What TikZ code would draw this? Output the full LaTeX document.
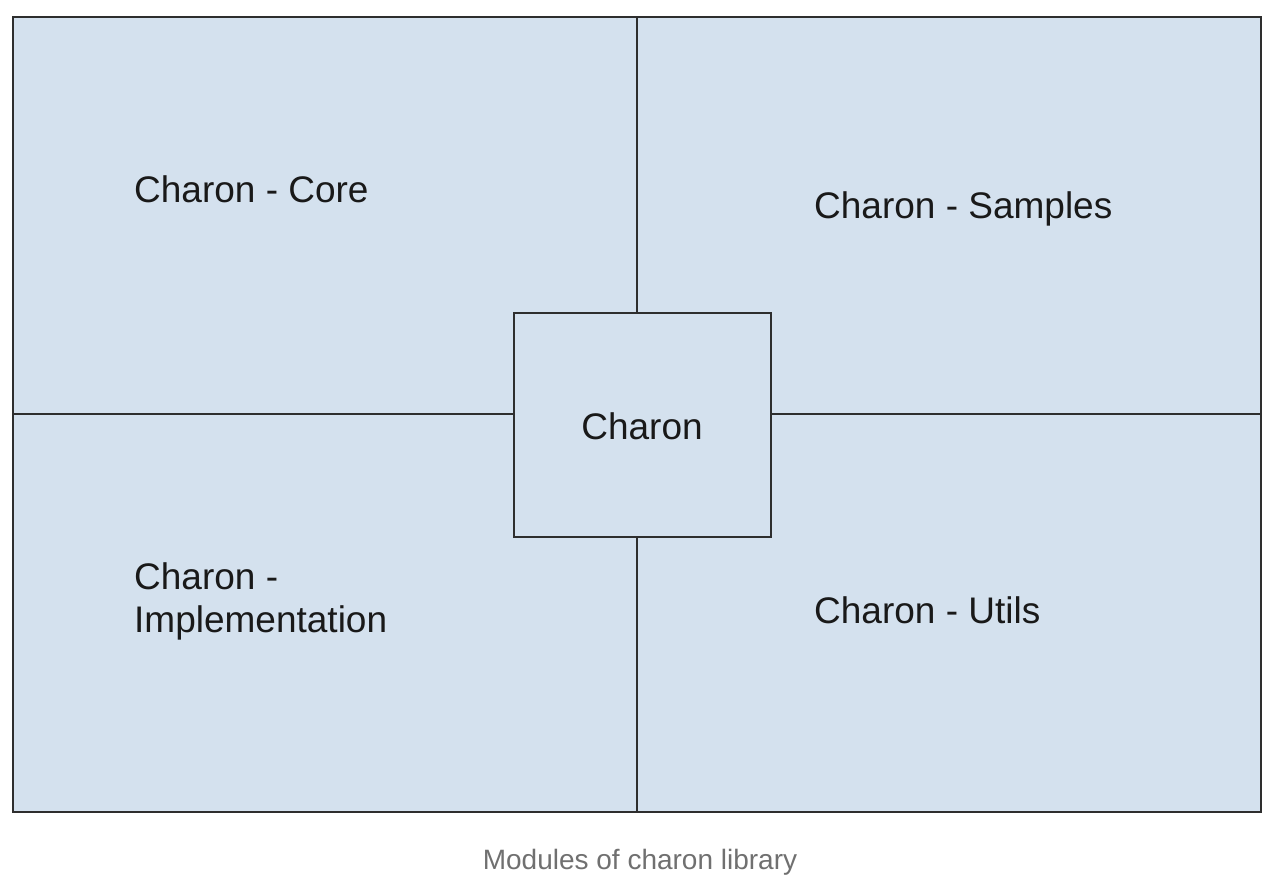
\documentclass[tikz,border=0pt]{standalone}
\usepackage{fontspec}
\setmainfont{Liberation Sans}
\definecolor{boxfill}{HTML}{D4E1EE}
\definecolor{boxline}{HTML}{2E2E2E}
\definecolor{captext}{HTML}{707070}
\begin{document}
\begin{tikzpicture}[x=1pt,y=-1pt,
  quad/.style={draw=boxline,fill=boxfill,line width=2pt,inner sep=0pt,outer sep=0pt,anchor=north west},
  lbl/.style={inner sep=0pt,anchor=west,text=black!90,font=\fontsize{37}{43}\selectfont,align=left}]
\useasboundingbox (0,0) rectangle (1278,890);
\node[quad,minimum width=624pt,minimum height=397pt] (tl) at (13,17) {};
\node[quad,minimum width=624pt,minimum height=397pt] (tr) at (637,17) {};
\node[quad,minimum width=624pt,minimum height=398pt] (bl) at (13,414) {};
\node[quad,minimum width=624pt,minimum height=398pt] (br) at (637,414) {};
\node[quad,minimum width=257pt,minimum height=224pt] (center) at (514,313) {};
\node[inner sep=0pt,font=\fontsize{37}{43}\selectfont,text=black!90] (clbl) at (642,426) {Charon};
\node[lbl] (core) at (134,189) {Charon - Core};
\node[lbl] (samples) at (814,209) {Charon - Samples};
\node[lbl] (impl) at (134,601) {Charon -\\Implementation};
\node[lbl] (utils) at (814,610) {Charon - Utils};
\node[inner sep=0pt,font=\fontsize{28}{32}\selectfont,text=captext] (cap) at (640,862) {Modules of charon library};
\end{tikzpicture}
\end{document}
